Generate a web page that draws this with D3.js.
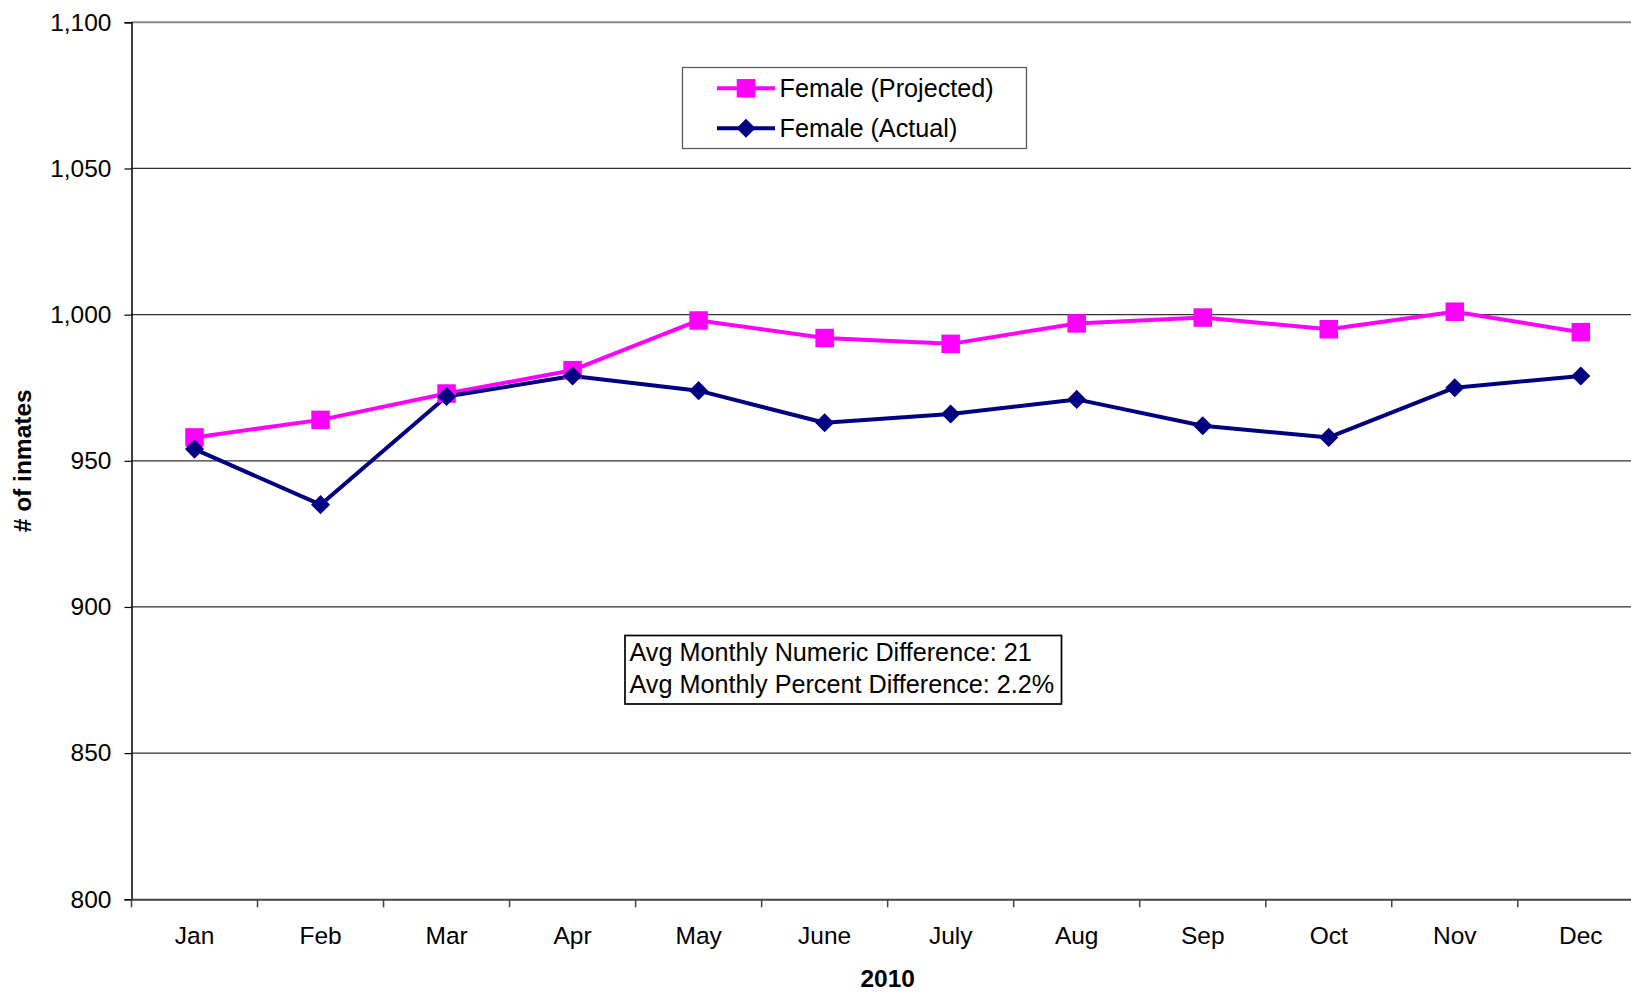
<!DOCTYPE html>
<html><head><meta charset="utf-8">
<script src="https://cdn.jsdelivr.net/npm/d3@7"></script>
<style>html,body{margin:0;padding:0;background:#fff;overflow:hidden}svg{display:block;font-family:"Liberation Sans",Arial,sans-serif}</style>
</head><body>
<svg id="c" width="1631" height="992"></svg>
<script>
const months = ["Jan","Feb","Mar","Apr","May","June","July","Aug","Sep","Oct","Nov","Dec"];
const projected = [958,964,973,981,998,992,990,997,999,995,1001,994];
const actual = [954,935,972,979,974,963,966,971,962,958,975,979];
const yTicks = [800,850,900,950,1000,1050,1100];
const seriesNames = ["Female (Projected)","Female (Actual)"];
const seriesColors = ["#FF00FF","#000080"];
const noteLines = ["Avg Monthly Numeric Difference: 21","Avg Monthly Percent Difference: 2.2%"];
const xTitle = "2010", yTitle = "# of inmates";

const svg = d3.select("#c");
const L = 131.5, R = 1643.8, T = 22.3, B = 899.3;
const x = d3.scaleBand().domain(months).range([L, R]);
const y = d3.scaleLinear().domain([800,1100]).range([B, T]);
const fs = 24.5, fsBox = 25.2;

// gridlines
svg.append("g").selectAll("line").data(yTicks.filter(d=>d>800 && d<1100)).join("line")
  .attr("x1",L).attr("x2",R).attr("y1",d=>y(d)).attr("y2",d=>y(d))
  .attr("stroke","#333").attr("stroke-width",1.2);
// top plot border
svg.append("line").attr("x1",L).attr("x2",R).attr("y1",y(1100)).attr("y2",y(1100))
  .attr("stroke","#888").attr("stroke-width",2);

// y axis
const yAxis = svg.append("g").attr("transform",`translate(${L},0)`)
  .call(d3.axisLeft(y).tickValues(yTicks).tickSize(7).tickPadding(13).tickFormat(d3.format(",")));
yAxis.select(".domain").attr("stroke","#000").attr("stroke-width",1.5);
yAxis.selectAll(".tick line").attr("stroke","#000").attr("stroke-width",1.2);
yAxis.selectAll("text").attr("font-size",fs).attr("fill","#000").attr("font-family","Liberation Sans, Arial, sans-serif");

// x axis
const xAxis = svg.append("g").attr("transform",`translate(0,${B})`)
  .call(d3.axisBottom(x).tickSize(0).tickPadding(27));
xAxis.select(".domain").attr("stroke","#444").attr("stroke-width",2);
xAxis.selectAll("text").attr("font-size",fs).attr("fill","#000").attr("font-family","Liberation Sans, Arial, sans-serif");
// category separator ticks
svg.append("g").selectAll("line").data(months).join("line")
  .attr("x1",d=>x(d)).attr("x2",d=>x(d)).attr("y1",B).attr("y2",B+8)
  .attr("stroke","#444").attr("stroke-width",1.5);

// axis titles
svg.append("text").attr("x",(L+R)/2).attr("y",987).attr("text-anchor","middle")
  .attr("font-size",fs).attr("font-weight","bold").text(xTitle);
svg.append("text").attr("transform",`translate(31,${(T+B)/2}) rotate(-90)`).attr("text-anchor","middle")
  .attr("font-size",fs).attr("font-weight","bold").text(yTitle);

const cx = d => x(d) + x.bandwidth()/2;
const line = d3.line().x(d=>cx(d.m)).y(d=>y(d.v));
const series = [projected, actual].map((vals,i)=>({name:seriesNames[i],color:seriesColors[i],pts:vals.map((v,j)=>({m:months[j],v}))}));

series.forEach((s,i)=>{
  svg.append("path").datum(s.pts).attr("d",line).attr("fill","none")
    .attr("stroke",s.color).attr("stroke-width",4).attr("stroke-linejoin","round");
});
const dm = 13.5;
function marker(g, i, px, py){
  if(i===0){
    g.append("rect").attr("x",px-9.25).attr("y",py-9.25).attr("width",18.5).attr("height",18.5).attr("fill",seriesColors[0]);
  } else {
    g.append("rect").attr("x",px-dm/2).attr("y",py-dm/2).attr("width",dm).attr("height",dm)
      .attr("transform",`rotate(45,${px},${py})`).attr("fill",seriesColors[1]);
  }
}
series.forEach((s,i)=>{
  const g = svg.append("g");
  s.pts.forEach(p=>marker(g,i,cx(p.m),y(p.v)));
});

// legend
const lg = svg.append("g");
lg.append("rect").attr("x",682.5).attr("y",67.5).attr("width",344).attr("height",81)
  .attr("fill","#fff").attr("stroke","#555").attr("stroke-width",1.2);
series.forEach((s,i)=>{
  const ry = 88.3 + i*40;
  lg.append("line").attr("x1",717).attr("x2",775).attr("y1",ry).attr("y2",ry)
    .attr("stroke",s.color).attr("stroke-width",4);
  marker(lg,i,746,ry);
  lg.append("text").attr("x",779.5).attr("y",ry+9).attr("font-size",fsBox).attr("fill","#000").text(s.name);
});

// note box
const nb = svg.append("g");
nb.append("rect").attr("x",625).attr("y",635.5).attr("width",436.5).attr("height",68.5)
  .attr("fill","#fff").attr("stroke","#000").attr("stroke-width",1.7);
noteLines.forEach((t,i)=>{
  nb.append("text").attr("x",629.5).attr("y",661+i*31.5).attr("font-size",fsBox).attr("fill","#000").text(t);
});
</script>
</body></html>
